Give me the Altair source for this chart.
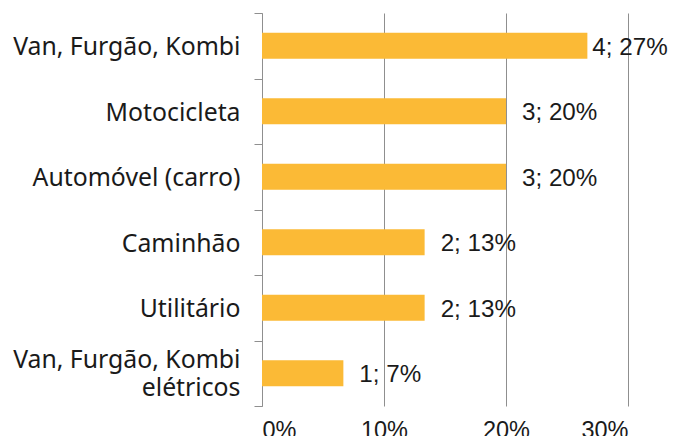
import altair as alt
import pandas as pd

categories = ["Van, Furgão, Kombi", "Motocicleta", "Automóvel (carro)", "Caminhão",
              "Utilitário", "Van, Furgão, Kombi\nelétricos"]
counts = [4, 3, 3, 2, 2, 1]
shares = [0.2667, 0.20, 0.20, 0.1333, 0.1333, 0.0667]
labels = ["4; 27%", "3; 20%", "3; 20%", "2; 13%", "2; 13%", "1; 7%"]

df = pd.DataFrame({"cat": categories, "n": counts, "share": shares, "label": labels})

FONT = "Noto Sans"
VFONT = "Liberation Sans"
COLOR = "#FBBA36"
GREY = "#8f8f8f"
INK = "#1a1a1a"

y = alt.Y("cat:N", sort=categories, title=None,
          scale=alt.Scale(paddingInner=0, paddingOuter=0),
          axis=alt.Axis(tickBand="extent", tickSize=8, tickColor=GREY, domainColor=GREY,
                        labelFont=FONT, labelFontSize=24.8, labelColor=INK,
                        labelPadding=14, labelLineHeight=28, labelLimit=400,
                        labelOffset={"expr": "indexof(datum.label, '\\n') >= 0 ? -13 : 2"},
                        labelExpr="split(datum.label, '\\n')"))
x = alt.X("share:Q", title=None,
          scale=alt.Scale(domain=[0, 0.3], nice=False),
          axis=alt.Axis(values=[0, 0.1, 0.2, 0.3], format=".0%", domain=False, ticks=False,
                        grid=True, gridColor=GREY, labelFont=VFONT,
                        labelFontSize=23.5, labelColor=INK, labelPadding=12))

bars = alt.Chart(df).mark_bar(color=COLOR, height=26).encode(x=x, y=y)
text = alt.Chart(df).mark_text(align="left", baseline="middle",
                               dx={"expr": "datum.share > 0.25 ? 5 : 16"}, dy=2, font=VFONT,
                               fontSize=24.2, color=INK).encode(
    x="share:Q", y=alt.Y("cat:N", sort=categories), text="label:N")

chart = (bars + text).properties(
    width=366, height=393,
    autosize=alt.AutoSizeParams(type="none"),
    padding={"left": 254, "top": 5, "right": 40, "bottom": 30},
).configure_view(stroke=None)

chart.save("out.html", embed_options={"renderer": "svg", "actions": False})
